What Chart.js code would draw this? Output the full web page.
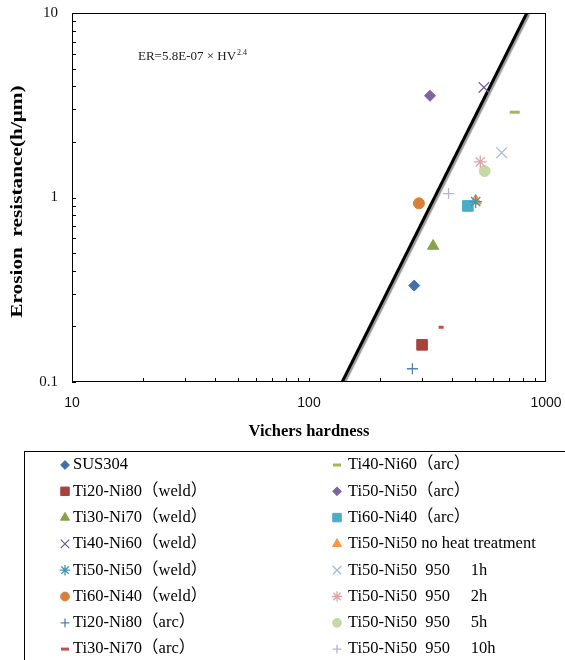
<!DOCTYPE html>
<html>
<head>
<meta charset="utf-8">
<script src="https://cdn.jsdelivr.net/npm/chart.js@4.4.0/dist/chart.umd.min.js"></script>
<style>
    body { margin: 0; background: #fff; }
</style>
</head>
<body>
<canvas id="erosionChart" width="565" height="660"></canvas>
<script>
// data (one point per material)
const seriesNames = [
    'SUS304',
    'Ti20-Ni80（weld）',
    'Ti30-Ni70（weld）',
    'Ti40-Ni60（weld）',
    'Ti50-Ni50（weld）',
    'Ti60-Ni40（weld）',
    'Ti20-Ni80（arc）',
    'Ti30-Ni70（arc）',
    'Ti40-Ni60（arc）',
    'Ti50-Ni50（arc）',
    'Ti60-Ni40（arc）',
    'Ti50-Ni50 no heat treatment',
    'Ti50-Ni50  950     1h',
    'Ti50-Ni50  950     2h',
    'Ti50-Ni50  950     5h',
    'Ti50-Ni50  950     10h'
];
const hardness = [278, 300, 334, 547, 505, 291, 273, 361, 738, 324, 468, 505, 650, 528, 551, 388];
const erosion = [0.333, 0.159, 0.546, 3.95, 0.95, 0.93, 0.118, 0.198, 2.9, 3.56, 0.90, 0.96, 1.75, 1.56, 1.39, 1.05];

// fitted power law line ER=5.8E-07 x HV^2.4 (end points as drawn)
const fitHardness = [138, 830];
const fitErosion = [0.1, 10];

const xTickLabels = [10, 100, 1000];
const yTickLabels = [0.1, 1, 10];

// marker styles
const markerColors = ['#4270A8', '#A8423F', '#86A34B', '#755C96', '#3F98AE', '#D7803A', '#4F81BD', '#C0504D',
    '#9BBB59', '#8064A2', '#4BACC6', '#F79646', '#A9B8DC', '#DDA6A5', '#C5D9A5', '#BDB1D2'];
const markerShapes = ['rectRot', 'rect', 'triangle', 'crossRot', 'star', 'circle', 'cross', 'line',
    'line', 'rectRot', 'rect', 'triangle', 'crossRot', 'star', 'circle', 'cross'];
const markerSizes = [5.5, 7.5, 6.5, 7.5, 6.5, 5.5, 5.5, 2.5, 5, 5.5, 7.5, 6.5, 7.5, 6.5, 5.5, 5.5];

const serif = "'Liberation Serif', 'Times New Roman', serif";

const datasets = seriesNames.map((name, i) => {
    const thin = ['crossRot', 'star', 'cross', 'line'].includes(markerShapes[i]);
    return {
        label: name,
        data: [{ x: hardness[i], y: erosion[i] }],
        pointStyle: markerShapes[i],
        pointRadius: markerSizes[i],
        backgroundColor: markerColors[i],
        borderColor: markerColors[i],
        borderWidth: markerShapes[i] === 'line' ? 3 : (thin ? 1.3 : 1)
    };
});

datasets.push({
    type: 'line',
    label: 'fit',
    data: fitHardness.map((h, i) => ({ x: h, y: fitErosion[i] })),
    borderColor: '#000',
    borderWidth: 3,
    pointRadius: 0,
    showLine: true
});

// gray shadow under the fit line
const lineShadow = {
    id: 'lineShadow',
    beforeDatasetDraw(chart, args) {
        if (args.meta.type !== 'line') return;
        const ctx = chart.ctx;
        ctx.save();
        ctx.shadowColor = 'rgba(0,0,0,0.4)';
        ctx.shadowOffsetX = 2;
        ctx.shadowOffsetY = 1;
        ctx.shadowBlur = 1;
    },
    afterDatasetDraw(chart, args) {
        if (args.meta.type === 'line') chart.ctx.restore();
    }
};

// frame + inward minor ticks + equation text + y title (stretched like the original)
const frameAndTicks = {
    id: 'frameAndTicks',
    afterDraw(chart) {
        const { ctx, chartArea: a, scales: { x, y } } = chart;
        ctx.save();
        ctx.strokeStyle = '#000';
        ctx.lineWidth = 1;
        ctx.strokeRect(a.left + 0.5, a.top + 0.5, a.right - a.left - 1, a.bottom - a.top - 1);
        ctx.beginPath();
        for (let d = x.min; d < x.max * 0.99; d *= 10) {
            for (let k = 1; k < 10; k++) {
                const px = Math.round(x.getPixelForValue(d * k)) + 0.5;
                ctx.moveTo(px, a.bottom);
                ctx.lineTo(px, a.bottom - 4);
            }
        }
        for (let d = y.min; d < y.max * 0.99; d *= 10) {
            for (let k = 1; k < 10; k++) {
                const py = Math.round(y.getPixelForValue(d * k)) + 0.5;
                ctx.moveTo(a.left, py);
                ctx.lineTo(a.left + 4, py);
            }
        }
        ctx.stroke();

        // equation
        ctx.fillStyle = '#222';
        ctx.textBaseline = 'alphabetic';
        ctx.font = '13px ' + serif;
        const eq = 'ER=5.8E-07 × HV';
        ctx.fillText(eq, 138, 60);
        const w = ctx.measureText(eq).width;
        ctx.font = '8px ' + serif;
        ctx.fillText('2.4', 138 + w + 1, 55);

        // y axis title
        ctx.fillStyle = '#000';
        ctx.translate(18, (a.top + a.bottom) / 2 + 4);
        ctx.rotate(-Math.PI / 2);
        ctx.scale(1.33, 1);
        ctx.font = 'bold 16px ' + serif;
        ctx.textAlign = 'center';
        ctx.textBaseline = 'middle';
        ctx.fillText('Erosion  resistance(h/μm)', 0, 0);
        ctx.restore();
    }
};

// two-column boxed legend below the chart
const boxedLegend = {
    id: 'boxedLegend',
    afterDraw(chart) {
        const ctx = chart.ctx;
        ctx.save();
        ctx.strokeStyle = '#000';
        ctx.lineWidth = 1;
        ctx.strokeRect(24.5, 451.5, 600, 300);
        ctx.font = "16.5px 'Liberation Serif', 'Noto Sans CJK SC', serif";
        ctx.textBaseline = 'middle';
        chart.data.datasets.forEach((ds, i) => {
            if (ds.type === 'line') return;
            const col = Math.floor(i / 8);
            const row = i % 8;
            const mx = col ? 337 : 65;
            const my = 465 + row * 26.3;
            ctx.fillStyle = ds.backgroundColor;
            ctx.strokeStyle = ds.borderColor;
            ctx.lineWidth = ds.borderWidth;
            Chart.helpers.drawPoint(ctx, {
                pointStyle: ds.pointStyle,
                radius: ds.pointStyle === 'line' ? 4 : ds.pointRadius * 0.8,
                borderWidth: ds.borderWidth,
                rotation: 0
            }, mx, my);
            ctx.fillStyle = '#000';
            ctx.fillText(ds.label, mx + (col ? 11 : 8), my);
        });
        ctx.restore();
    }
};

new Chart(document.getElementById('erosionChart'), {
    type: 'scatter',
    data: { datasets: datasets },
    options: {
        responsive: false,
        animation: false,
        events: [],
        layout: { padding: { top: 13, right: 19, bottom: 218, left: 0 } },
        plugins: {
            legend: { display: false },
            tooltip: { enabled: false }
        },
        scales: {
            x: {
                type: 'logarithmic',
                min: 10,
                max: 1000,
                afterBuildTicks: s => { s.ticks = xTickLabels.map(v => ({ value: v })); },
                afterFit: s => {
                    s.height = 60;
                    s.paddingLeft = 0;
                    s.paddingRight = 0;
                },
                grid: { display: false },
                border: { display: false },
                ticks: {
                    autoSkip: false,
                    maxRotation: 0,
                    padding: 5,
                    color: '#111',
                    font: { family: "'Liberation Sans', Arial, sans-serif", size: 14 },
                    callback: v => String(v)
                },
                title: {
                    display: true,
                    text: 'Vichers hardness',
                    color: '#000',
                    padding: 0,
                    font: { family: serif, size: 16.5, weight: 'bold' }
                }
            },
            y: {
                type: 'logarithmic',
                min: 0.1,
                max: 10,
                afterBuildTicks: s => { s.ticks = yTickLabels.map(v => ({ value: v })); },
                afterFit: s => {
                    s.width = 72;
                    s.paddingTop = 0;
                    s.paddingBottom = 0;
                },
                grid: { display: false },
                border: { display: false },
                ticks: {
                    autoSkip: false,
                    padding: 6,
                    color: '#111',
                    font: { family: serif, size: 15 },
                    callback: v => String(v)
                },
                title: { display: false }
            }
        }
    },
    plugins: [lineShadow, frameAndTicks, boxedLegend]
});
</script>
</body>
</html>
